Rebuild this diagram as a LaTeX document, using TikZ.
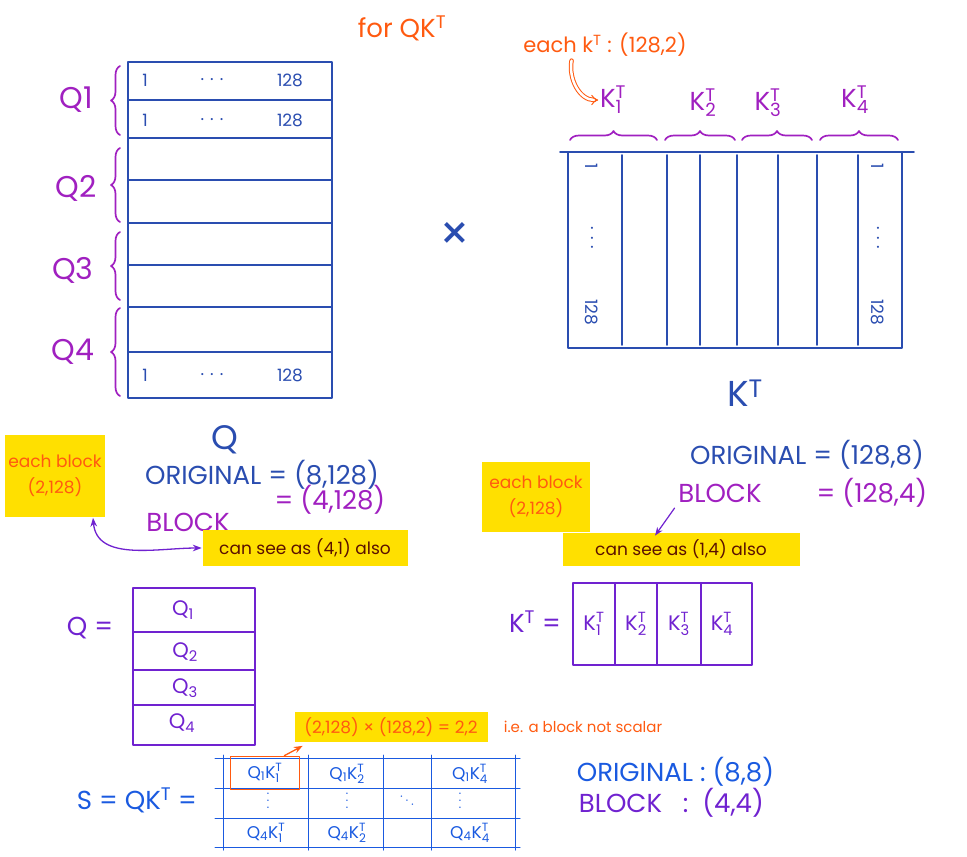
\documentclass[tikz,border=0pt]{standalone}
\usepackage{fontspec}
\setmainfont{Poppins}
\usetikzlibrary{decorations.pathreplacing,arrows.meta}

\definecolor{qblue}{HTML}{2A4DB0}
\definecolor{bracepurple}{HTML}{A020C0}
\definecolor{blockviolet}{HTML}{7022D0}
\definecolor{penorange}{HTML}{FF5A10}
\definecolor{hlyellow}{HTML}{FFE000}
\definecolor{inkmaroon}{HTML}{5A1000}
\definecolor{sblue}{HTML}{1A5AE0}

\newcommand{\Kt}[1]{$\mathrm{K}_{\mathrm{#1}}^{\mathrm{T}}$}
\newcommand{\Qs}[1]{$\mathrm{Q}_{\mathrm{#1}}$}

\begin{document}
\begin{tikzpicture}[x=1pt,y=-1pt,line width=1.7pt,line cap=round,line join=round,
    huge/.style={inner sep=1pt,font=\fontsize{30}{32}\selectfont},
    big/.style={inner sep=1pt,font=\fontsize{26}{28}\selectfont},
    mid/.style={inner sep=1pt,font=\fontsize{21}{23}\selectfont},
    small/.style={inner sep=1pt,font=\fontsize{17}{19}\selectfont},
    tiny/.style={inner sep=1pt,font=\fontsize{15}{17}\selectfont},
    dotrow/.style={inner sep=0pt,font=\fontsize{12}{12}\selectfont},
    hlbox/.style={fill=hlyellow,inner sep=2pt,align=center,font=\fontsize{17}{26}\selectfont},
    bracket/.style={bracepurple,decorate,decoration={brace,amplitude=9pt}}]
  \useasboundingbox (0,0) rectangle (967,857);

  \node[big,penorange] (title) at (402,28) {for QK$^{\mathrm{T}}$};

  % Q, row by row
  \draw[qblue] (128,62) rectangle (332,398);
  \foreach \y in {100,138,180,223,265,307,352}
    \draw[qblue] (128,\y) -- (332,\y);
  \foreach \y/\n in {80/a,120/b,375/h} {
    \node[small,qblue] (qone\n) at (145,\y) {1};
    \node[small,qblue] (qdots\n) at (212,\y) {. . .};
    \node[small,qblue] (qlast\n) at (290,\y) {128};
  }
  \draw[bracket] (120,135) -- (120,66);
  \draw[bracket] (120,222) -- (120,148);
  \draw[bracket] (120,300) -- (120,232);
  \draw[bracket] (120,396) -- (120,308);
  \node[huge,bracepurple] (qa) at (76,100) {Q1};
  \node[huge,bracepurple] (qb) at (76,188) {Q2};
  \node[huge,bracepurple] (qc) at (73,270) {Q3};
  \node[huge,bracepurple] (qd) at (73,352) {Q4};

  \node[qblue,inner sep=1pt,font=\fontsize{48}{50}\selectfont] (times) at (455,236) {×};

  % K transpose
  \draw[qblue] (568,152) rectangle (902,348);
  \draw[qblue] (560,152) -- (914,152);
  \foreach \x in {622,667,700,737,778,817,858}
    \draw[qblue] (\x,155) -- (\x,345);
  \foreach \x/\n in {592/a,878/h} {
    \node[small,qblue,rotate=-90] (kone\n) at (\x,166) {1};
    \node[small,qblue,rotate=-90] (kdots\n) at (\x,238) {. . .};
    \node[small,qblue,rotate=-90] (klast\n) at (\x,312) {128};
  }
  \draw[bracket] (570,140) -- (657,140);
  \draw[bracket] (665,140) -- (735,140);
  \draw[bracket] (742,140) -- (812,140);
  \draw[bracket] (820,140) -- (898,140);
  \node[big,bracepurple] (ka) at (613,100) {\Kt1};
  \node[big,bracepurple] (kb) at (703,103) {\Kt2};
  \node[big,bracepurple] (kc) at (768,103) {\Kt3};
  \node[big,bracepurple] (kd) at (855,100) {\Kt4};
  \node[mid,penorange] (eachk) at (605,45) {each k$^{\mathrm{T}}$ : (128,2)};
  \draw[penorange,line width=1pt,double,double distance=2.5pt,-{Implies}]
    (eachk.south west) ++(50,2) to[out=-100,in=180] (ka.west);

  \node[qblue,font=\fontsize{34}{36}\selectfont] (qname) at (225,440) {Q};
  \node[qblue,font=\fontsize{36}{38}\selectfont] (kname) at (745,393) {K$^{\mathrm{T}}$};

  % sizes of Q
  \node[big,qblue] (qorig) at (262,475) {ORIGINAL = (8,128)};
  \node[big,bracepurple] (qblk) at (330,500) {= (4,128)};
  \node[big,bracepurple] (qblkname) at (188,522) {BLOCK};
  \node[hlbox,text=penorange,minimum width=100,minimum height=82] (eachq) at (55,476) {each block\\(2,128)};
  \node[hlbox,text=inkmaroon,minimum width=205,minimum height=36] (seeq) at (305,548) {can see as (4,1) also};
  \draw[blockviolet,line width=1.3pt,{Stealth}-{Stealth}]
    ([xshift=38]eachq.south) to[out=-85,in=180] (seeq.west);

  % sizes of K transpose
  \node[big,qblue] (korig) at (807,455) {ORIGINAL = (128,8)};
  \node[big,bracepurple] (kblkname) at (720,493) {BLOCK};
  \node[big,bracepurple] (kblk) at (872,493) {= (128,4)};
  \node[hlbox,text=penorange,minimum width=108,minimum height=70] (eachkb) at (536,497) {each block\\(2,128)};
  \node[hlbox,text=inkmaroon,minimum width=237,minimum height=33] (seek) at (681,549) {can see as (1,4) also};
  \draw[blockviolet,line width=1.2pt,-{Stealth}]
    ([xshift=-2,yshift=-4]kblkname.south west) -- ([xshift=-26,yshift=-4]seek.north);

  % Q in blocks
  \node[big,blockviolet] (qeq) at (90,628) {Q =};
  \draw[blockviolet] (133,588) rectangle (255,745);
  \foreach \y in {632,670,705}
    \draw[blockviolet] (133,\y) -- (255,\y);
  \node[mid,blockviolet] (qb1) at (183,610) {\Qs1};
  \node[mid,blockviolet] (qb2) at (185,652) {\Qs2};
  \node[mid,blockviolet] (qb3) at (185,688) {\Qs3};
  \node[mid,blockviolet] (qb4) at (182,723) {\Qs4};

  % K transpose in blocks
  \node[big,blockviolet] (keq) at (535,622) {K$^{\mathrm{T}}$ =};
  \draw[blockviolet] (573,583) rectangle (752,665);
  \foreach \x in {615,657,701}
    \draw[blockviolet] (\x,583) -- (\x,665);
  \node[mid,blockviolet] (kb1) at (594,624) {\Kt1};
  \node[mid,blockviolet] (kb2) at (636,624) {\Kt2};
  \node[mid,blockviolet] (kb3) at (679,624) {\Kt3};
  \node[mid,blockviolet] (kb4) at (722,624) {\Kt4};

  % S = QK^T
  \node[big,sblue] (seq) at (137,800) {S = QK$^{\mathrm{T}}$ =};
  \foreach \y in {758,788,818,847}
    \draw[sblue,line width=1pt] (215,\y) -- (520,\y);
  \foreach \x in {223,308,383,431,515}
    \draw[sblue,line width=1pt] (\x,755) -- (\x,850);
  \node[small,sblue,draw=penorange,line width=1.7pt,minimum width=69,minimum height=33] (s11) at (265,773) {\Qs1\Kt1};
  \node[small,sblue] (s12) at (347,774) {\Qs1\Kt2};
  \node[small,sblue] (s14) at (470,774) {\Qs1\Kt4};
  \node[dotrow,sblue,rotate=-90] (s21) at (268,801) {. . .};
  \node[dotrow,sblue,rotate=-90] (s22) at (347,801) {. . .};
  \node[dotrow,sblue,rotate=-35] (s23) at (407,801) {. . .};
  \node[dotrow,sblue,rotate=-90] (s24) at (460,801) {. . .};
  \node[small,sblue] (s41) at (266,833) {\Qs4\Kt1};
  \node[small,sblue] (s42) at (347,833) {\Qs4\Kt2};
  \node[small,sblue] (s44) at (470,833) {\Qs4\Kt4};
  \node[hlbox,text=penorange,minimum width=193,minimum height=30] (prod) at (391,727) {(2,128) × (128,2) = 2,2};
  \node[tiny,penorange] (notscalar) at (583,727) {i.e. a block not scalar};
  \draw[penorange,line width=1.3pt,-{Stealth}]
    ([xshift=-16]s11.north east) -- ([xshift=9,yshift=-3]prod.south west);

  \node[big,sblue,anchor=west] (sorig) at (575,772) {ORIGINAL : (8,8)};
  \node[big,blockviolet,anchor=west] (sblk) at (577,803) {BLOCK \ \ : \ (4,4)};
\end{tikzpicture}
\end{document}
